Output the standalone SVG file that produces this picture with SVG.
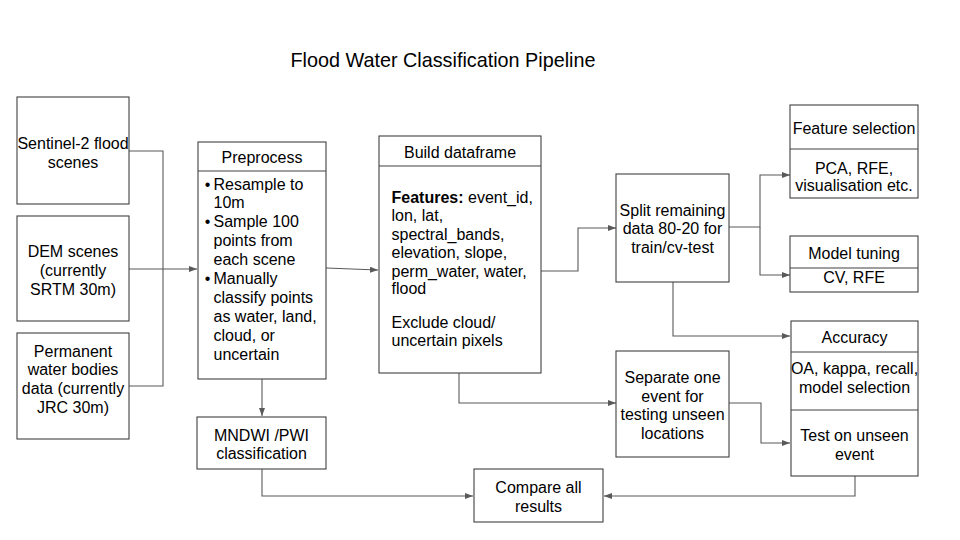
<svg xmlns="http://www.w3.org/2000/svg" width="960" height="540" viewBox="0 0 960 540">
<defs>
<marker id="ah" viewBox="0 0 8 6" refX="8" refY="3" markerWidth="8" markerHeight="6" markerUnits="userSpaceOnUse" orient="auto">
<path d="M0,0 L8,3 L0,6 Z" fill="#595959"/>
</marker>
<style>
text{font-family:"Liberation Sans",Arial,sans-serif;font-size:16px;fill:#000}
.c{text-anchor:middle}
.b{text-anchor:middle}
.t{font-size:19.8px}
rect,.d{fill:#fff;stroke:#404040;stroke-width:1.1}
.d{fill:none}
.ln{fill:none;stroke:#595959;stroke-width:1.1}
.ar{marker-end:url(#ah)}
</style>
</defs>
<rect x="0" y="0" width="960" height="540" style="fill:#fff;stroke:none"/>
<text class="c t" x="443" y="67">Flood Water Classification Pipeline</text>

<g id="connectors">
<path class="ln" d="M129,151 H163 V386 H129"/>
<path class="ln ar" d="M129,269 H197"/>
<path class="ln ar" d="M326,268 L378,270"/>
<path class="ln ar" d="M262,379 V416"/>
<path class="ln ar" d="M541,271 H578 V228 H616"/>
<path class="ln ar" d="M459,373 V403 H616"/>
<path class="ln ar" d="M729,227 H760 V175 H790"/>
<path class="ln ar" d="M760,227 V275 H790"/>
<path class="ln ar" d="M673,282 V336 H790"/>
<path class="ln ar" d="M729,403 H761 V443 H790"/>
<path class="ln ar" d="M262,469 V496 H473"/>
<path class="ln ar" d="M855,476 V496 H604"/>
</g>

<g id="sentinel">
<rect x="17" y="97" width="112" height="107"/>
<text class="c" x="73" y="148.5">Sentinel-2 flood</text>
<text class="c" x="73" y="167.5">scenes</text>
</g>
<g id="dem">
<rect x="17" y="216" width="112" height="105"/>
<text class="c" x="73" y="256.5">DEM scenes</text>
<text class="c" x="73" y="275.5">(currently</text>
<text class="c" x="73" y="294.5">SRTM 30m)</text>
</g>
<g id="permanent">
<rect x="17" y="333" width="112" height="106"/>
<text class="c" x="73" y="356.5">Permanent</text>
<text class="c" x="73" y="375">water bodies</text>
<text class="c" x="73" y="394">data (currently</text>
<text class="c" x="73" y="412.5">JRC 30m)</text>
</g>

<g id="preprocess">
<rect x="198" y="142" width="128" height="237"/>
<path class="d" d="M198,171 H326"/>
<text class="c" x="262" y="162.5">Preprocess</text>
<text class="b" x="207.5" y="189.5">•</text><text x="213.5" y="189.5">Resample to</text>
<text x="213.5" y="208.4">10m</text>
<text class="b" x="207.5" y="227.3">•</text><text x="213.5" y="227.3">Sample 100</text>
<text x="213.5" y="246.2">points from</text>
<text x="213.5" y="265.1">each scene</text>
<text class="b" x="207.5" y="284">•</text><text x="213.5" y="284">Manually</text>
<text x="213.5" y="302.9">classify points</text>
<text x="213.5" y="321.8">as water, land,</text>
<text x="213.5" y="340.7">cloud, or</text>
<text x="213.5" y="359.6">uncertain</text>
</g>

<g id="mndwi">
<rect x="197" y="417" width="129" height="52"/>
<text class="c" x="261.5" y="440.5">MNDWI /PWI</text>
<text class="c" x="261.5" y="459">classification</text>
</g>

<g id="build">
<rect x="379" y="136" width="162" height="237"/>
<path class="d" d="M379,166 H541"/>
<text class="c" x="460" y="157.5">Build dataframe</text>
<text x="391.5" y="202.5"><tspan font-weight="bold">Features:</tspan> event_id,</text>
<text x="391.5" y="221">lon, lat,</text>
<text x="391.5" y="239.5">spectral_bands,</text>
<text x="391.5" y="258">elevation, slope,</text>
<text x="391.5" y="276.5">perm_water, water,</text>
<text x="391.5" y="294">flood</text>
<text x="391.5" y="327.5">Exclude cloud/</text>
<text x="391.5" y="346">uncertain pixels</text>
</g>

<g id="split">
<rect x="616" y="174" width="113" height="108"/>
<text class="c" x="672.5" y="215.5">Split remaining</text>
<text class="c" x="672.5" y="234">data 80-20 for</text>
<text class="c" x="672.5" y="252.5">train/cv-test</text>
</g>

<g id="separate">
<rect x="616" y="351" width="113" height="106"/>
<text class="c" x="672.5" y="382.5">Separate one</text>
<text class="c" x="672.5" y="401.5">event for</text>
<text class="c" x="672.5" y="420">testing unseen</text>
<text class="c" x="672.5" y="438.5">locations</text>
</g>

<g id="feature-selection">
<rect x="790" y="105" width="128" height="93"/>
<path class="d" d="M790,149 H918"/>
<text class="c" x="854" y="133.5">Feature selection</text>
<text class="c" x="854" y="173.5">PCA, RFE,</text>
<text class="c" x="854" y="190.5">visualisation etc.</text>
</g>

<g id="model-tuning">
<rect x="790" y="236" width="128" height="56"/>
<path class="d" d="M790,268 H918"/>
<text class="c" x="854" y="258.5">Model tuning</text>
<text class="c" x="854" y="282.5">CV, RFE</text>
</g>

<g id="accuracy">
<rect x="791" y="321" width="127" height="155"/>
<path class="d" d="M791,352 H918 M791,410 H918"/>
<text class="c" x="854.5" y="342.5">Accuracy</text>
<text class="c" x="854.5" y="373.5">OA, kappa, recall,</text>
<text class="c" x="854.5" y="392.5">model selection</text>
<text class="c" x="854.5" y="440.5">Test on unseen</text>
<text class="c" x="854.5" y="459.5">event</text>
</g>

<g id="compare">
<rect x="474" y="469" width="129" height="53"/>
<text class="c" x="538.5" y="492.5">Compare all</text>
<text class="c" x="538.5" y="511.5">results</text>
</g>
</svg>
